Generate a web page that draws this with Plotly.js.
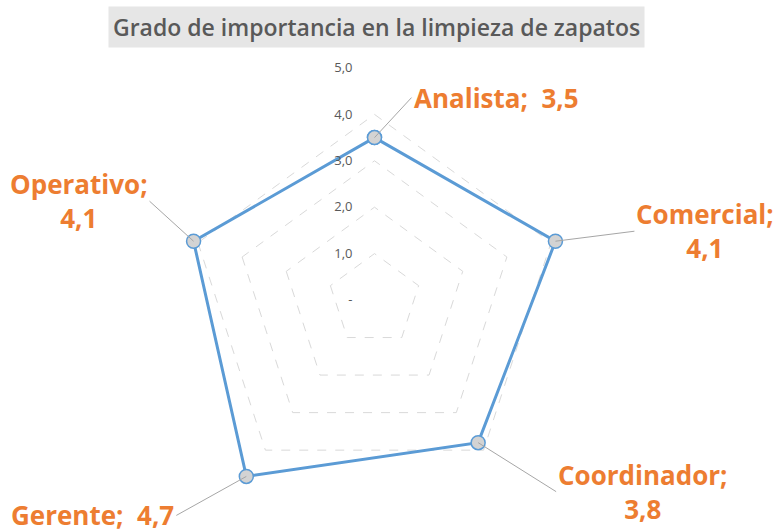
<!DOCTYPE html>
<html>
<head>
<meta charset="utf-8">
<script src="https://cdn.plot.ly/plotly-3.0.1.min.js"></script>
<style>html,body{margin:0;padding:0;background:#fff;} #chart{width:774px;height:532px;}</style>
</head>
<body>
<div id="chart"></div>
<script>
const categories = ['Analista', 'Comercial', 'Coordinador', 'Gerente', 'Operativo'];
const values = [3.5, 4.1, 3.8, 4.7, 4.1];
const labelTexts = ['Analista;  3,5', 'Comercial;<br>4,1', 'Coordinador;<br>3,8', 'Gerente;  4,7', 'Operativo;<br>4,1'];
const radialTickVals = [0, 1, 2, 3, 4, 5];
const radialTickText = ['-', '1,0', '2,0', '3,0', '4,0', '5,0'];
const labelOffsets = [[37, -40], [79, -10], [78, 49], [-70, 39], [-44, -40]];
const labelAnchors = ['left', 'left', 'left', 'right', 'right'];

const W = 774, H = 532;
const cx = 374.5, cy = 300, Rpx = 232, rMax = 5;
const dom = {x: [(cx - Rpx) / W, (cx + Rpx) / W], y: [Math.max(0, (H - (cy + Rpx)) / H), (H - (cy - Rpx)) / H]};

const trace = {
  type: 'scatterpolar',
  r: values.concat([values[0]]),
  theta: categories.concat([categories[0]]),
  mode: 'lines+markers',
  line: {color: '#5B9BD5', width: 3},
  marker: {size: 14, color: '#D3D3D3', line: {color: '#5B9BD5', width: 1.5}},
  hoverinfo: 'skip'
};

const annotations = categories.map((c, i) => {
  const ang = i * 2 * Math.PI / categories.length;
  const rp = values[i] / rMax * Rpx;
  const px = cx + rp * Math.sin(ang);
  const py = cy - rp * Math.cos(ang);
  return {
    xref: 'paper', yref: 'paper',
    x: px / W, y: (H - py) / H,
    text: labelTexts[i],
    showarrow: true, arrowhead: 0, arrowwidth: 1, arrowcolor: '#A6A6A6',
    ax: labelOffsets[i][0], ay: labelOffsets[i][1],
    xanchor: labelAnchors[i], yanchor: 'middle',
    font: {family: 'Open Sans, sans-serif', size: 26, color: '#ED7D31', weight: 'bold'},
    align: 'center'
  };
});

annotations.push({
  xref: 'paper', yref: 'paper', x: 376 / W, y: (H - 27) / H,
  xanchor: 'center', yanchor: 'middle', showarrow: false,
  text: 'Grado de importancia en la limpieza de zapatos',
  font: {family: 'Open Sans, sans-serif', size: 23, color: '#595959', weight: 600},
  bgcolor: '#E6E6E6', borderpad: 4
});

const layout = {
  width: W, height: H,
  margin: {l: 0, r: 0, t: 0, b: 0},
  paper_bgcolor: '#FFFFFF',
  showlegend: false,
  polar: {
    domain: dom,
    bgcolor: 'rgba(0,0,0,0)',
    gridshape: 'linear',
    angularaxis: {
      rotation: 90, direction: 'clockwise',
      showline: false, showgrid: false, showticklabels: false, ticks: ''
    },
    radialaxis: {
      range: [0, rMax], angle: 90, tickangle: 90, side: 'counterclockwise',
      tickvals: radialTickVals, ticktext: radialTickText,
      showline: false, ticks: 'outside', ticklen: 17, tickcolor: 'rgba(0,0,0,0)',
      gridcolor: '#D9D9D9', griddash: 'dash', gridwidth: 1,
      tickfont: {family: 'Open Sans, sans-serif', size: 13, color: '#595959'}
    }
  },
  annotations: annotations
};

Plotly.newPlot('chart', [trace], layout, {displayModeBar: false, staticPlot: true});
</script>
</body>
</html>
